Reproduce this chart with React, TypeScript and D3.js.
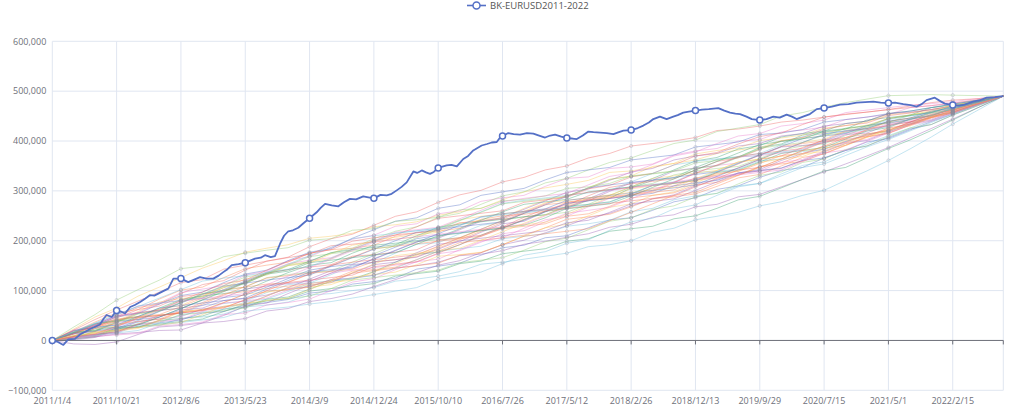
import React from "react";
import * as d3 from "d3";

// ---------------- DATA ----------------
const seriesName = "BK-EURUSD2011-2022";
const startDate = "2011/1/4";
const totalDays = 4288; // last category: 2022/10/1

const xTickLabels = [
  "2011/1/4", "2011/10/21", "2012/8/6", "2013/5/23", "2014/3/9", "2014/12/24",
  "2015/10/10", "2016/7/26", "2017/5/12", "2018/2/26", "2018/12/13", "2019/9/29",
  "2020/7/15", "2021/5/1", "2022/2/15",
];
const yTicks = [-100000, 0, 100000, 200000, 300000, 400000, 500000, 600000];

const palette = ["#5470c6", "#91cc75", "#fac858", "#ee6666", "#73c0de", "#3ba272", "#fc8452", "#9a60b4", "#ea7ccc"];

// main series: [day index from start, value in thousands]
const mainSeries: [number, number][] = [
  [0, 0], [25, -3], [50, -9], [72, 2], [102, 3], [125, 12], [150, 18], [170, 23], [195, 28], [215, 32],
  [232, 44], [245, 51], [268, 47], [290, 60], [310, 58], [328, 54], [351, 67], [372, 71], [396, 77],
  [420, 84], [441, 91], [460, 90], [478, 94], [500, 99], [523, 104], [546, 124], [580, 124], [613, 117],
  [640, 122], [666, 127], [695, 124], [726, 124], [750, 130], [771, 137], [790, 143], [809, 151],
  [840, 153], [870, 156], [914, 164], [940, 166], [959, 171], [985, 167], [1004, 169], [1027, 194],
  [1045, 210], [1064, 219], [1085, 221], [1109, 226], [1135, 236], [1160, 245], [1192, 257], [1210, 266],
  [1230, 274], [1260, 271], [1290, 269], [1315, 277], [1342, 284], [1370, 283], [1402, 289], [1425, 287],
  [1450, 285], [1480, 292], [1508, 291], [1530, 294], [1553, 301], [1575, 308], [1598, 317], [1628, 339],
  [1645, 336], [1666, 341], [1685, 337], [1703, 334], [1720, 338], [1740, 346], [1778, 351], [1800, 352],
  [1824, 349], [1853, 364], [1875, 370], [1898, 381], [1936, 391], [1960, 394], [1981, 397], [2004, 398],
  [2019, 407], [2030, 410], [2056, 416], [2080, 414], [2109, 413], [2140, 416], [2169, 415], [2195, 411],
  [2222, 407], [2245, 411], [2267, 413], [2295, 409], [2320, 406], [2345, 405], [2365, 404], [2392, 411],
  [2417, 419], [2440, 418], [2470, 417], [2500, 416], [2530, 414], [2555, 418], [2575, 421], [2610, 422],
  [2640, 426], [2665, 431], [2690, 437], [2710, 444], [2740, 449], [2770, 444], [2800, 449], [2820, 452],
  [2845, 457], [2870, 459], [2900, 461], [2930, 463], [2960, 464], [3003, 466], [3030, 461], [3056, 457],
  [3080, 455], [3101, 454], [3130, 449], [3154, 444], [3190, 442], [3220, 444], [3251, 449], [3280, 447],
  [3311, 453], [3335, 449], [3356, 444], [3385, 449], [3416, 454], [3447, 464], [3480, 466], [3515, 469],
  [3552, 473], [3590, 474], [3627, 477], [3665, 478], [3702, 479], [3735, 477], [3770, 476], [3800, 477],
  [3837, 474], [3870, 472], [3897, 469], [3920, 474], [3942, 482], [3979, 487], [4000, 481], [4024, 475],
  [4060, 472], [4090, 471], [4114, 473], [4152, 479], [4185, 482], [4213, 487], [4250, 488], [4288, 490],
];

// simulated paths, sampled at these day indices (values in thousands)
const simDays = [
  0, 97, 193, 290, 387, 483, 580, 677, 773, 870, 967, 1063, 1160, 1257, 1353, 1450, 1547, 1643, 1740,
  1837, 1933, 2030, 2127, 2223, 2320, 2417, 2513, 2610, 2707, 2803, 2900, 2997, 3093, 3190, 3287, 3383,
  3480, 3577, 3673, 3770, 3867, 3963, 4060, 4174, 4288,
];

const sim01 = [0, 23, 47, 65, 89, 107, 126, 145, 160, 177, 185, 192, 205, 209, 215, 228, 232, 238, 251, 258, 265, 282, 298, 306, 313, 321, 337, 340, 347, 355, 362, 375, 382, 387, 401, 407, 416, 424, 432, 445, 452, 461, 470, 480, 490];
const sim02 = [0, 6, 10, 25, 26, 30, 44, 47, 53, 67, 71, 77, 91, 94, 100, 106, 119, 123, 129, 138, 153, 157, 163, 169, 175, 188, 192, 200, 217, 225, 242, 249, 257, 270, 278, 291, 301, 321, 340, 361, 384, 408, 434, 462, 490];
const sim03 = [0, 19, 27, 48, 66, 73, 94, 112, 120, 141, 159, 167, 188, 204, 213, 231, 249, 258, 277, 292, 301, 318, 327, 342, 350, 366, 375, 390, 395, 400, 407, 421, 424, 430, 438, 442, 448, 454, 458, 463, 467, 471, 476, 483, 490];
const sim04 = [0, 3, 7, 13, 16, 20, 21, 35, 38, 44, 59, 64, 78, 84, 93, 108, 122, 136, 151, 160, 176, 192, 201, 216, 230, 246, 255, 270, 284, 292, 310, 323, 336, 343, 361, 375, 384, 399, 412, 421, 437, 447, 461, 475, 490];
const sim05 = [0, 16, 19, 37, 54, 61, 64, 82, 100, 107, 126, 132, 137, 139, 157, 174, 191, 198, 202, 206, 223, 241, 248, 252, 257, 273, 291, 308, 315, 332, 340, 345, 349, 365, 382, 390, 394, 411, 428, 436, 442, 457, 462, 478, 490];
const sim06 = [0, 17, 37, 55, 62, 83, 101, 107, 126, 144, 151, 157, 175, 182, 185, 191, 209, 216, 219, 225, 243, 250, 253, 259, 277, 284, 289, 293, 299, 316, 320, 335, 339, 355, 371, 375, 390, 407, 414, 421, 438, 453, 461, 476, 490];
const sim07 = [0, 5, 10, 25, 26, 40, 44, 49, 63, 67, 83, 87, 103, 119, 123, 138, 157, 173, 177, 192, 211, 227, 231, 246, 265, 281, 285, 306, 321, 326, 347, 363, 368, 387, 394, 412, 418, 424, 442, 447, 452, 467, 472, 481, 490];
const sim08 = [0, 21, 30, 51, 69, 75, 96, 103, 110, 131, 139, 160, 168, 186, 203, 211, 229, 234, 254, 260, 279, 286, 291, 309, 325, 328, 345, 348, 354, 372, 380, 385, 400, 403, 418, 422, 428, 443, 448, 453, 467, 471, 476, 482, 490];
const sim09 = [0, 7, 12, 17, 32, 35, 41, 55, 58, 71, 76, 82, 95, 99, 113, 118, 125, 143, 149, 155, 171, 186, 191, 206, 210, 226, 242, 246, 261, 278, 286, 303, 310, 327, 341, 347, 366, 381, 390, 407, 424, 433, 452, 471, 490];
const sim10 = [0, 14, 32, 39, 58, 77, 84, 89, 108, 115, 135, 152, 158, 164, 183, 201, 207, 212, 217, 235, 241, 246, 265, 282, 289, 306, 323, 330, 349, 355, 374, 381, 386, 401, 406, 412, 426, 431, 438, 453, 457, 463, 472, 480, 490];
const sim11 = [0, 8, 26, 31, 36, 51, 54, 71, 74, 79, 96, 112, 115, 132, 150, 156, 175, 193, 196, 214, 231, 237, 255, 262, 267, 284, 302, 308, 313, 318, 337, 339, 344, 360, 364, 379, 383, 399, 414, 419, 434, 449, 458, 475, 490];
const sim12 = [0, 21, 42, 61, 79, 97, 116, 122, 143, 151, 159, 166, 173, 190, 193, 198, 212, 216, 221, 236, 239, 244, 259, 262, 267, 282, 285, 290, 305, 310, 326, 331, 346, 363, 370, 387, 402, 407, 423, 430, 444, 450, 464, 478, 490];
const sim13 = [0, 13, 18, 36, 42, 47, 61, 65, 80, 84, 91, 104, 108, 122, 125, 131, 145, 150, 157, 170, 173, 180, 193, 199, 207, 214, 227, 233, 247, 252, 268, 273, 288, 293, 308, 323, 338, 354, 370, 387, 406, 425, 444, 467, 490];
const sim14 = [0, 15, 20, 39, 46, 63, 80, 87, 106, 114, 133, 150, 158, 176, 185, 204, 219, 228, 247, 255, 273, 290, 298, 316, 325, 342, 357, 366, 381, 395, 402, 419, 426, 433, 450, 457, 468, 477, 484, 491, 492, 493, 492, 491, 490];
const sim15 = [0, 3, 18, 21, 26, 41, 58, 62, 66, 81, 99, 102, 107, 122, 139, 142, 147, 162, 179, 196, 201, 206, 211, 226, 243, 248, 253, 268, 284, 288, 294, 309, 326, 333, 350, 367, 374, 391, 408, 415, 432, 447, 456, 473, 490];
const sim16 = [0, 17, 34, 41, 48, 65, 82, 89, 94, 101, 119, 136, 151, 156, 175, 191, 195, 200, 207, 224, 241, 258, 273, 278, 283, 298, 303, 308, 325, 342, 360, 367, 384, 391, 408, 415, 420, 435, 440, 455, 460, 467, 474, 482, 490];
const sim17 = [0, 5, 8, 11, 14, 29, 32, 37, 52, 55, 71, 76, 83, 100, 117, 124, 142, 158, 163, 182, 199, 206, 225, 242, 249, 268, 285, 292, 311, 316, 336, 351, 356, 371, 376, 382, 400, 415, 420, 435, 440, 456, 464, 476, 490];
const sim18 = [0, 13, 30, 47, 54, 73, 90, 97, 116, 133, 141, 160, 177, 184, 205, 222, 239, 246, 265, 272, 291, 298, 305, 322, 337, 342, 347, 362, 367, 372, 388, 393, 398, 413, 416, 423, 438, 443, 448, 455, 460, 467, 474, 481, 490];
const sim19 = [0, 9, 14, 29, 46, 51, 56, 61, 76, 93, 97, 102, 107, 112, 127, 132, 137, 152, 169, 172, 177, 192, 209, 226, 233, 250, 267, 274, 291, 298, 316, 333, 340, 357, 364, 369, 384, 401, 408, 425, 432, 449, 458, 475, 490];
const sim20 = [0, 7, 12, 15, 29, 31, 36, 41, 46, 59, 63, 67, 73, 78, 85, 92, 99, 106, 123, 130, 137, 154, 171, 178, 195, 202, 221, 238, 245, 264, 272, 291, 308, 315, 334, 351, 358, 377, 394, 411, 426, 441, 456, 473, 490];
const sim21 = [0, 19, 26, 45, 62, 69, 88, 93, 98, 117, 135, 142, 147, 152, 169, 172, 177, 182, 201, 206, 211, 228, 247, 264, 271, 290, 307, 314, 319, 324, 342, 359, 366, 383, 400, 407, 424, 431, 436, 451, 456, 463, 470, 479, 490];
const sim22 = [0, 1, 6, 21, 38, 43, 48, 63, 68, 73, 89, 106, 123, 140, 145, 164, 181, 198, 205, 222, 239, 246, 263, 280, 297, 304, 321, 338, 345, 362, 370, 375, 390, 395, 410, 415, 430, 435, 440, 455, 458, 463, 470, 479, 490];
const sim23 = [0, 27, 52, 81, 102, 121, 144, 149, 168, 175, 181, 186, 201, 204, 221, 224, 239, 242, 247, 262, 265, 280, 283, 290, 305, 308, 315, 330, 335, 340, 356, 361, 368, 385, 392, 397, 412, 417, 425, 439, 446, 455, 464, 478, 490];
const sim24 = [0, 9, 27, 43, 48, 52, 68, 85, 102, 107, 113, 116, 133, 150, 167, 184, 189, 194, 199, 204, 209, 224, 229, 234, 249, 254, 269, 286, 291, 296, 312, 317, 332, 349, 356, 373, 390, 397, 414, 421, 438, 447, 462, 477, 490];
const sim25 = [0, 3, 8, 23, 28, 33, 38, 43, 58, 73, 79, 84, 99, 104, 109, 114, 129, 134, 139, 154, 159, 174, 179, 184, 199, 204, 219, 224, 229, 244, 250, 265, 282, 289, 306, 323, 340, 347, 366, 385, 402, 421, 442, 467, 490];
const sim26 = [0, 15, 32, 49, 56, 75, 80, 85, 102, 119, 137, 154, 161, 166, 183, 200, 217, 222, 227, 244, 261, 278, 285, 290, 295, 312, 329, 336, 353, 370, 378, 395, 410, 415, 430, 435, 442, 457, 462, 467, 472, 475, 479, 485, 490];
const sim27 = [0, 8, 24, 27, 32, 47, 64, 81, 86, 91, 107, 124, 141, 148, 153, 170, 187, 204, 211, 216, 221, 226, 241, 258, 275, 280, 285, 290, 295, 310, 316, 321, 336, 341, 346, 361, 366, 381, 398, 405, 422, 439, 454, 473, 490];
const sim28 = [0, 17, 24, 29, 46, 63, 70, 89, 106, 123, 131, 150, 155, 174, 191, 198, 203, 208, 225, 242, 249, 254, 259, 276, 281, 286, 291, 308, 325, 330, 336, 341, 358, 363, 380, 397, 404, 421, 428, 445, 452, 459, 472, 479, 490];
const sim29 = [0, 6, 10, 15, 20, 35, 52, 57, 62, 77, 83, 98, 115, 120, 125, 130, 145, 162, 179, 184, 189, 204, 209, 214, 229, 234, 241, 258, 265, 282, 290, 295, 310, 315, 330, 347, 354, 371, 388, 403, 420, 437, 454, 473, 490];
const sim30 = [0, 14, 30, 37, 56, 61, 80, 97, 114, 121, 141, 158, 175, 182, 199, 206, 211, 228, 245, 250, 255, 260, 277, 282, 287, 304, 311, 328, 335, 352, 370, 377, 394, 409, 416, 433, 448, 453, 458, 463, 470, 477, 482, 485, 490];
const sim31 = [0, -7, -8, -3, 12, 27, 30, 35, 50, 69, 75, 94, 111, 116, 135, 152, 157, 176, 193, 198, 217, 234, 239, 258, 275, 280, 299, 316, 321, 340, 346, 351, 368, 371, 388, 391, 396, 413, 416, 433, 438, 451, 458, 475, 490];
const sim32 = [0, 9, 16, 19, 34, 37, 52, 55, 60, 65, 81, 84, 89, 104, 121, 126, 131, 136, 141, 156, 161, 166, 181, 198, 205, 222, 239, 246, 263, 270, 288, 295, 314, 331, 338, 357, 364, 383, 390, 409, 426, 433, 452, 471, 490];
const sim33 = [0, 7, 24, 41, 47, 50, 56, 73, 91, 108, 125, 130, 135, 138, 143, 158, 162, 168, 185, 202, 219, 237, 255, 272, 277, 282, 287, 292, 297, 302, 320, 337, 354, 372, 389, 395, 400, 405, 422, 439, 446, 451, 467, 478, 490];
const sim34 = [0, 16, 33, 39, 42, 59, 76, 94, 100, 117, 135, 142, 159, 176, 182, 187, 192, 210, 227, 233, 238, 243, 248, 252, 269, 273, 278, 294, 311, 315, 321, 337, 342, 358, 375, 381, 387, 404, 420, 427, 444, 451, 465, 476, 490];
const sim35 = [0, 5, 9, 15, 32, 38, 42, 58, 75, 79, 85, 101, 118, 135, 141, 146, 151, 157, 174, 180, 197, 214, 220, 238, 255, 261, 267, 284, 301, 318, 324, 329, 334, 340, 357, 363, 380, 397, 403, 420, 436, 444, 460, 475, 490];
const sim36 = [0, 14, 19, 24, 40, 58, 75, 92, 109, 115, 121, 126, 131, 149, 166, 183, 200, 217, 223, 228, 233, 238, 255, 272, 289, 306, 312, 317, 322, 327, 333, 338, 355, 372, 389, 405, 410, 415, 431, 437, 443, 458, 466, 478, 490];
const sim37 = [0, 9, 14, 19, 24, 40, 57, 62, 67, 72, 89, 106, 111, 116, 121, 137, 154, 171, 188, 205, 222, 227, 232, 237, 253, 270, 287, 304, 310, 315, 321, 326, 331, 347, 364, 381, 386, 391, 407, 423, 430, 446, 460, 476, 490];
const sim38 = [0, 18, 35, 52, 69, 75, 80, 85, 102, 119, 137, 143, 148, 165, 182, 199, 215, 220, 225, 241, 258, 275, 281, 286, 291, 296, 301, 318, 335, 352, 359, 364, 369, 375, 392, 409, 415, 421, 427, 443, 450, 457, 470, 479, 490];
const sim39 = [0, 8, 13, 28, 45, 50, 55, 60, 65, 82, 100, 117, 134, 151, 157, 162, 167, 172, 189, 206, 223, 240, 257, 274, 291, 297, 302, 307, 312, 317, 335, 352, 369, 375, 380, 385, 402, 419, 425, 431, 438, 453, 462, 477, 490];
const sim40 = [0, 15, 32, 49, 55, 60, 65, 70, 86, 103, 109, 114, 119, 135, 152, 157, 162, 167, 183, 200, 205, 210, 215, 220, 236, 241, 257, 274, 279, 284, 301, 318, 335, 340, 345, 361, 378, 395, 401, 418, 434, 442, 458, 474, 490];
const sim41 = [0, 4, 19, 36, 53, 59, 76, 93, 110, 127, 134, 151, 168, 174, 179, 184, 189, 206, 223, 240, 257, 274, 279, 284, 289, 306, 323, 329, 334, 339, 345, 350, 367, 384, 400, 405, 410, 426, 431, 437, 452, 458, 467, 478, 490];
const sim42 = [0, 13, 28, 33, 38, 43, 59, 76, 93, 98, 104, 109, 114, 119, 135, 140, 145, 150, 155, 171, 176, 192, 209, 214, 219, 224, 240, 257, 274, 291, 297, 314, 331, 348, 354, 359, 375, 392, 409, 416, 432, 447, 456, 474, 490];
const sim43 = [0, 16, 21, 26, 31, 47, 64, 81, 98, 115, 133, 139, 156, 161, 166, 171, 176, 193, 210, 215, 220, 225, 242, 259, 264, 269, 274, 290, 307, 324, 342, 359, 376, 393, 399, 404, 420, 425, 430, 445, 451, 457, 470, 479, 490];
const sim44 = [0, 6, 11, 27, 44, 61, 78, 84, 89, 94, 112, 129, 146, 163, 180, 197, 203, 208, 213, 218, 223, 228, 233, 250, 267, 284, 301, 306, 311, 316, 322, 327, 332, 337, 342, 359, 376, 382, 399, 416, 432, 440, 456, 473, 490];
const sim45 = [0, 20, 26, 31, 48, 65, 70, 75, 80, 85, 103, 120, 137, 142, 147, 163, 180, 197, 214, 231, 248, 254, 259, 264, 281, 286, 291, 296, 301, 306, 312, 329, 346, 363, 380, 397, 414, 420, 425, 440, 446, 460, 467, 478, 490];
const sim46 = [0, 10, 16, 21, 26, 31, 36, 52, 69, 74, 80, 85, 102, 119, 136, 153, 170, 175, 180, 185, 201, 218, 235, 252, 269, 286, 292, 297, 302, 307, 324, 341, 358, 364, 369, 374, 379, 395, 412, 419, 435, 450, 458, 475, 490];
const sim47 = [0, 17, 34, 51, 68, 85, 102, 119, 125, 130, 136, 153, 170, 187, 204, 210, 215, 220, 225, 230, 247, 252, 257, 262, 267, 272, 277, 294, 311, 316, 322, 339, 356, 373, 378, 383, 400, 417, 423, 429, 444, 452, 465, 477, 490];
const sim48 = [0, 7, 12, 17, 33, 50, 55, 60, 76, 93, 111, 116, 121, 126, 131, 148, 153, 158, 175, 192, 209, 226, 243, 260, 265, 270, 275, 280, 285, 290, 308, 325, 342, 347, 364, 381, 398, 403, 410, 426, 434, 449, 458, 475, 490];

const simSeries = [
  sim01, sim02, sim03, sim04, sim05, sim06, sim07, sim08, sim09, sim10, sim11, sim12, sim13, sim14, sim15, sim16,
  sim17, sim18, sim19, sim20, sim21, sim22, sim23, sim24, sim25, sim26, sim27, sim28, sim29, sim30, sim31, sim32,
  sim33, sim34, sim35, sim36, sim37, sim38, sim39, sim40, sim41, sim42, sim43, sim44, sim45, sim46, sim47, sim48,
];
const simColors = ["#fac858", "#73c0de", "#ee6666", "#9a60b4", "#91cc75", "#fc8452", "#3ba272", "#ea7ccc", "#5470c6"];

// ---------------- CHART ----------------
const W = 1024;
const H = 413;
const LEFT = 52.3;
const RIGHT = 1003.3;
const TOP = 41.3;
const BOTTOM = 390.3;
const FONT = "'Open Sans', 'Noto Sans', sans-serif";
const AXIS_TEXT = "#6e7079";
const GRID = "#e0e6f1";
const UNIT = 1000;

export default function App() {
  const parse = d3.timeParse("%Y/%m/%d");
  const start = parse(startDate) as Date;
  const x = d3.scaleLinear().domain([0, totalDays]).range([LEFT, RIGHT]);
  const y = d3.scaleLinear().domain([-100000, 600000]).range([BOTTOM, TOP]);
  const tickDays = xTickLabels.map((l) => d3.timeDay.count(start, parse(l) as Date));
  const fmt = d3.format(",");

  const line = d3
    .line<[number, number]>()
    .x((d) => x(d[0]))
    .y((d) => y(d[1] * UNIT));

  const mainColor = palette[0];
  const tickSet = new Set(tickDays);
  const mainMarkers = mainSeries.filter((d) => tickSet.has(d[0]));

  return (
    <svg
      width={W}
      height={H}
      style={{ position: "absolute", left: 0, top: 0, background: "#fff" }}
      fontFamily={FONT}
    >
      {/* horizontal grid */}
      {yTicks.map((t) => (
        <line key={"h" + t} x1={LEFT} x2={RIGHT} y1={y(t)} y2={y(t)} stroke={GRID} strokeWidth={1} />
      ))}
      {/* vertical grid */}
      {[...tickDays, totalDays].map((d) => (
        <line key={"v" + d} x1={x(d)} x2={x(d)} y1={TOP} y2={BOTTOM} stroke={GRID} strokeWidth={1} />
      ))}

      {/* simulated paths */}
      <g fill="none">
        {simSeries.map((s, i) => (
          <path
            key={"s" + i}
            d={line(s.map((v, j) => [simDays[j], v] as [number, number])) || ""}
            stroke={simColors[i % simColors.length]}
            strokeOpacity={0.42}
            strokeWidth={1}
            strokeLinejoin="round"
          />
        ))}
      </g>
      <g fill="none">
        {simSeries.map((s, i) =>
          s.map((v, j) =>
            tickSet.has(simDays[j]) && j > 0 ? (
              <circle
                key={"m" + i + "-" + j}
                cx={x(simDays[j])}
                cy={y(v * UNIT)}
                r={1.6}
                stroke="#8a8a9a"
                strokeOpacity={0.3}
                strokeWidth={1}
              />
            ) : null
          )
        )}
      </g>

      {/* zero axis line with ticks */}
      <line x1={LEFT} x2={RIGHT} y1={y(0)} y2={y(0)} stroke={AXIS_TEXT} strokeWidth={1} />
      {[...tickDays, totalDays].map((d) => (
        <line key={"t" + d} x1={x(d)} x2={x(d)} y1={y(0)} y2={y(0) + 4} stroke={AXIS_TEXT} strokeWidth={1} />
      ))}

      {/* main series */}
      <path d={line(mainSeries) || ""} fill="none" stroke={mainColor} strokeWidth={1.8} strokeLinejoin="round" />
      {mainMarkers.map((d) => (
        <circle
          key={"mm" + d[0]}
          cx={x(d[0])}
          cy={y(d[1] * UNIT)}
          r={3}
          fill="#fff"
          stroke={mainColor}
          strokeWidth={1.5}
        />
      ))}

      {/* y labels */}
      {yTicks.map((t) => (
        <text key={"yl" + t} x={LEFT - 6} y={y(t) + 3.2} textAnchor="end" fontSize={9} fill={AXIS_TEXT}>
          {fmt(t)}
        </text>
      ))}
      {/* x labels */}
      {xTickLabels.map((l, i) => (
        <text key={"xl" + l} x={x(tickDays[i])} y={403.5} textAnchor="middle" fontSize={9} fill={AXIS_TEXT}>
          {l}
        </text>
      ))}

      {/* legend */}
      <g>
        <line x1={467} x2={486} y1={5.5} y2={5.5} stroke={mainColor} strokeWidth={1.6} />
        <circle cx={476.5} cy={5.5} r={3.5} fill="#fff" stroke={mainColor} strokeWidth={1.5} />
        <text x={490} y={9} fontSize={9.5} fill="#555">
          {seriesName}
        </text>
      </g>
    </svg>
  );
}
